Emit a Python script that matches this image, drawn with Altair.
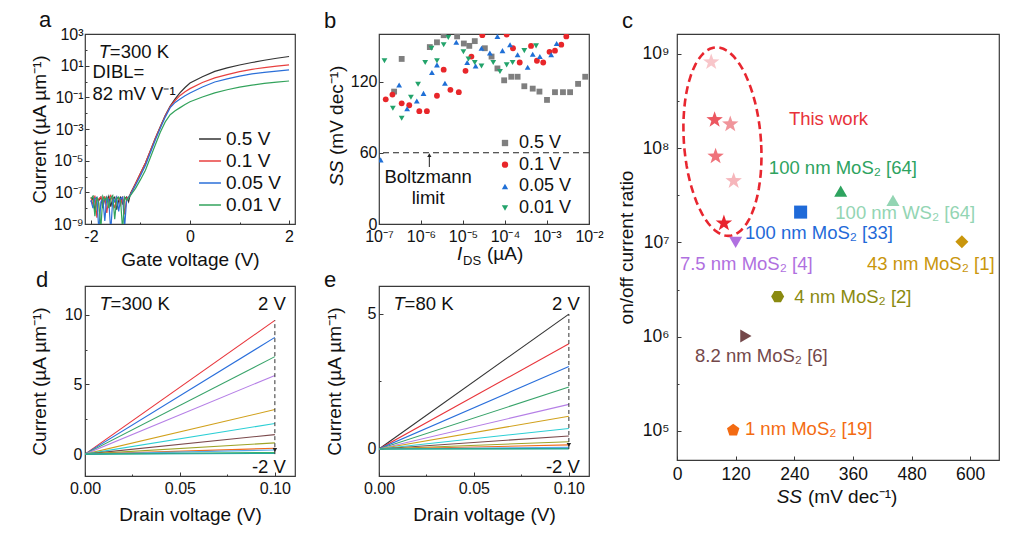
import math
import altair as alt
import pandas as pd

FONT = "Liberation Sans"
FRAME = "#3a3a3a"
INK = "#111111"
SUP = str.maketrans("-0123456789", "⁻⁰¹²³⁴⁵⁶⁷⁸⁹")

# ---------------- panel a : transfer curves ----------------
a_series = ["0.5 V", "0.1 V", "0.05 V", "0.01 V"]
a_colors = ["#333333", "#e8403f", "#2b6fd8", "#33a35c"]
a_vg = [-2.0, -1.96, -1.92, -1.88, -1.84, -1.8, -1.76, -1.72, -1.68, -1.64,
        -1.6, -1.56, -1.52, -1.48, -1.44, -1.4, -1.36, -1.32, -1.28, -1.24,
        -1.2, -1.1, -1.0, -0.9, -0.8, -0.7, -0.6, -0.5, -0.4, -0.3, -0.2, -0.1,
        0.0, 0.25, 0.5, 0.75, 1.0, 1.25, 1.5, 1.75, 2.0]
a_log_05 = [-7.6, -7.3, -8.2, -7.4, -7.5, -7.3, -8.0, -7.35, -7.6, -7.25,
            -7.9, -7.4, -7.3, -8.1, -7.5, -7.3, -7.7, -7.4, -7.3, -7.6,
            -7.05, -6.45, -5.8, -5.15, -4.37, -3.58, -2.85, -2.15, -1.55, -1.1, -0.7, -0.38,
            -0.1, 0.3, 0.64, 0.86, 1.04, 1.2, 1.34, 1.47, 1.58]
a_log_01 = [-7.3, -7.8, -7.2, -8.6, -7.4, -7.3, -7.7, -7.25, -8.3, -7.4,
            -7.2, -7.6, -8.0, -7.3, -7.4, -7.8, -7.25, -8.4, -7.35, -7.3,
            -7.1, -6.45, -5.8, -5.15, -4.37, -3.58, -2.87, -2.17, -1.58, -1.2, -0.88, -0.65,
            -0.45, -0.06, 0.23, 0.43, 0.62, 0.77, 0.88, 0.97, 1.05]
a_log_005 = [-7.5, -8.0, -7.4, -7.3, -9.5, -7.6, -7.4, -8.8, -7.3, -7.5,
             -9.5, -7.4, -7.6, -7.3, -8.2, -7.4, -7.3, -9.2, -7.5, -7.3,
             -7.15, -6.55, -5.95, -5.3, -4.5, -3.7, -2.95, -2.25, -1.65, -1.32, -1.1, -0.9,
             -0.73, -0.35, -0.03, 0.17, 0.34, 0.48, 0.58, 0.66, 0.73]
a_log_001 = [-7.4, -7.25, -8.5, -7.3, -7.7, -9.3, -7.25, -7.5, -7.3, -8.0,
             -7.35, -7.2, -8.7, -7.4, -7.3, -7.6, -9.4, -7.3, -7.5, -7.35,
             -7.2, -6.75, -6.2, -5.6, -4.8, -4.0, -3.2, -2.55, -2.1, -1.85, -1.65, -1.45,
             -1.28, -0.98, -0.72, -0.52, -0.36, -0.23, -0.12, -0.04, 0.03]

# ---------------- panel b : SS vs I_DS ----------------
b_series = ["0.5 V", "0.1 V", "0.05 V", "0.01 V"]
b_colors = ["#7f7f7f", "#e8262a", "#1f6fd6", "#23a36b"]
b_shapes = ["square", "circle", "triangle-up", "triangle-down"]
b_logi_05 = [-6.64, -6.46, -5.79, -5.62, -5.46, -5.14, -4.98, -4.85, -4.72, -4.48, -4.32, -4.18,
             -4.02, -3.85, -3.70, -3.54, -3.34, -3.18, -3.0, -2.81, -2.62, -2.45, -2.26, -2.09]
b_ss_05 = [111.5, 139, 149, 153, 159, 158, 152, 150, 154, 148, 141, 131,
           121, 124, 124, 116, 114, 111.5, 104.5, 111, 111, 111, 118, 124]
b_logi_01 = [-6.84, -6.68, -6.46, -6.28, -6.04, -5.86, -5.62, -5.46, -5.30, -5.10, -4.94, -4.80,
             -4.54, -3.96, -3.81, -3.65, -3.38, -3.24, -3.09, -2.94, -2.81, -2.66, -2.54]
b_ss_01 = [105, 109, 101.6, 100, 95, 95, 108, 130, 113, 111, 129, 141,
           159, 159.5, 148, 136, 150, 137.5, 136, 145, 146, 151, 158]
b_logi_005 = [-6.96, -6.52, -6.33, -6.10, -5.94, -5.74, -5.62, -5.43, -5.16, -4.90, -4.70, -4.56,
              -4.36, -4.18, -4.06, -3.88, -3.70, -3.46, -3.34, -3.17, -2.90, -2.77]
b_ss_005 = [54, 117, 97, 103.6, 110, 127.6, 134, 118.6, 153, 136, 133, 148,
            144, 158, 146, 151, 142.5, 132, 143, 141, 142.5, 152]
b_logi_001 = [-6.87, -6.67, -6.46, -6.24, -6.07, -5.90, -5.75, -5.62, -5.46, -5.35, -4.99, -4.87,
              -4.72, -4.56, -4.28, -4.12, -3.96, -3.82, -3.54, -3.26]
b_ss_001 = [137.5, 97.4, 89, 106.7, 117.7, 136, 148, 137.5, 151, 157, 145, 139,
            136, 133, 136, 128.5, 134, 136, 146, 150]
b_limit = [60]

# ---------------- panel c : benchmark ----------------
c_star_keys = ["s1", "s2", "s3", "s4", "s5", "s6"]
c_star_x = [70, 77, 109, 79, 116, 96]
c_star_y = [8.2e8, 2.0e8, 1.8e8, 8.2e7, 4.5e7, 1.6e7]
c_star_colors = ["#f8c6ca", "#ec5760", "#f0959b", "#ef737b", "#f6b6bb", "#e8232d"]
c_ref_names = ["7.5 nm MoS₂ [4]", "100 nm MoS₂ [33]", "100 nm MoS₂ [64]", "100 nm WS₂ [64]",
               "43 nm MoS₂ [1]", "4 nm MoS₂ [2]", "8.2 nm MoS₂ [6]", "1 nm MoS₂ [19]"]
c_ref_x = [120, 253, 335, 442, 583, 206, 141, 115]
c_ref_y = [1.0e7, 2.1e7, 3.5e7, 2.8e7, 1.02e7, 2.67e6, 1.02e6, 1.02e5]
c_ref_colors = ["#b070e0", "#1f6ad8", "#2ea35f", "#93d5b3", "#c9960c", "#8a8a10", "#74484a", "#f36b12"]
c_label_x = [6, 139, 188, 324, 389, 240, 37, 139]
c_label_y = [5.9e6, 1.26e7, 6.2e7, 2.05e7, 5.9e6, 2.63e6, 6.2e5, 1.05e5]
# dashed ellipse around "this work": centre / radii
ell_cx, ell_rx, ell_shear = 93.0, 79.0, 12.0
ell_cy_log, ell_ry_log = 8.07, 1.0

# ---------------- panels d, e : output curves ----------------
d_vd = [0.0, 0.1]
d_end = [9.6, 8.38, 7.0, 5.65, 3.2, 2.2, 1.4, 0.81, 0.42, 0.3, 0.12, 0.05]
d_colors = ["#e8353b", "#2a6fdb", "#38a36a", "#b57fe6", "#d1a11c", "#2ccfd5",
            "#7b4a4c", "#9ea428", "#f26b1d", "#5aa8ea", "#3ab36b", "#26a59c"]
e_end = [4.99, 3.89, 3.05, 2.29, 1.65, 1.21, 0.76, 0.48, 0.27, 0.15, 0.06, 0.02, 0.005]
e_colors = ["#333333"] + d_colors

STAR = "M0,-1L0.235,-0.324L0.951,-0.309L0.38,0.124L0.588,0.809L0,0.4L-0.588,0.809L-0.38,0.124L-0.951,-0.309L-0.235,-0.324Z"
HEX = "M1,0L0.5,0.866L-0.5,0.866L-1,0L-0.5,-0.866L0.5,-0.866Z"
PENT = "M0,-1L0.951,-0.309L0.588,0.809L-0.588,0.809L-0.951,-0.309Z"
c_ref_shapes = ["triangle-down", "square", "triangle-up", "triangle-up", "diamond", HEX, "triangle-right", PENT]


def sup10(e):
    return "10" + str(e).translate(SUP)


def tick_axis(majors, labels, minors=(), log=False, title=None, label_size=16, **kw):
    def near(v):
        if log:
            return f"abs(log(datum.value) - ({math.log(v):.6f})) < 0.001"
        return f"abs(datum.value - ({v:.6f})) < 0.000001"
    expr = "".join(f"{near(v)} ? '{lab}' : " for v, lab in zip(majors, labels)) + "''"
    args = dict(values=sorted(list(majors) + list(minors)), labelExpr=expr, domain=False, grid=False,
                offset=-4, tickSize=4, tickWidth=1, tickColor=FRAME, labelPadding=3,
                labelFontSize=label_size, labelColor=INK, labelFont=FONT, labelFlush=False,
                labelOverlap=False, titleFontSize=19, titleFont=FONT, titleColor=INK,
                titleFontWeight="normal", title=title)
    if minors:
        test = " || ".join(near(m) for m in minors)
        args["tickDash"] = {"condition": {"test": test, "value": [0, 2, 2, 0]}, "value": []}
    args.update(kw)
    return alt.Axis(**args)


def txt(x, y, t, **mk):
    return alt.Chart(pd.DataFrame({"x": [x], "y": [y], "t": [t]})).mark_text(**mk).encode(
        x="x:Q", y="y:Q", text="t:N")


def ptxt(px, py, t, **mk):
    return alt.Chart(pd.DataFrame({"t": [t]})).mark_text(**mk).encode(
        x=alt.value(px), y=alt.value(py), text="t:N")


def letter(s, px, py):
    return ptxt(px, py, s, fontSize=22, align="left", baseline="alphabetic", color=INK)


def indep(ch):
    return ch.resolve_scale(color="independent", shape="independent").resolve_legend(
        color="independent", shape="independent")


# ======== panel a ========
rows = []
for s, logs in zip(a_series, [a_log_05, a_log_01, a_log_005, a_log_001]):
    for vg, lv in zip(a_vg, logs):
        rows.append({"x": vg, "y": 10.0 ** lv, "s": s})
df_a = pd.DataFrame(rows)
a_exps = [-9, -7, -5, -3, -1, 1, 3]
ax_a_x = tick_axis([-2, 0, 2], ["-2", "0", "2"], [-1, 1], title="Gate voltage (V)",
                   labelPadding=4, minExtent=23, maxExtent=23, titlePadding=7)
ax_a_y = tick_axis([10.0 ** e for e in a_exps], [sup10(e) for e in a_exps],
                   [10.0 ** e for e in [-8, -6, -4, -2, 0, 2]], log=True,
                   title="Current (µA µm⁻¹)", labelPadding=2, minExtent=35, maxExtent=35, titlePadding=5)
a_lines = alt.Chart(df_a).mark_line(strokeWidth=1.2, clip=True).encode(
    x=alt.X("x:Q", scale=alt.Scale(domain=[-2.12, 2.12], nice=False, zero=False), axis=ax_a_x),
    y=alt.Y("y:Q", scale=alt.Scale(type="log", domain=[1e-9, 1e3], nice=False), axis=ax_a_y),
    color=alt.Color("s:N", scale=alt.Scale(domain=a_series, range=a_colors), sort=a_series,
                    legend=alt.Legend(orient="none", legendX=113, legendY=93, title=None,
                                      symbolType="stroke", symbolSize=480, symbolStrokeWidth=1.5,
                                      labelFontSize=19, labelFont=FONT, labelColor=INK,
                                      rowPadding=-3, padding=0, labelOffset=4)),
)
TS = 18.5
chart_a = alt.layer(
    a_lines,
    txt(-1.84, 78.0, "T", fontSize=TS, fontStyle="italic", align="left", baseline="middle", color=INK),
    txt(-1.84, 78.0, "=300 K", fontSize=TS, align="left", baseline="middle", dx=11, color=INK),
    txt(-1.97, 3.9, "DIBL=", fontSize=TS, align="left", baseline="middle", color=INK),
    txt(-1.97, 0.155, "82 mV V⁻¹", fontSize=TS, align="left", baseline="middle", color=INK),
    letter("a", -46, -7),
).properties(width=210, height=190)

# ======== panel b ========
rows = []
for s, li, ss in zip(b_series, [b_logi_05, b_logi_01, b_logi_005, b_logi_001],
                     [b_ss_05, b_ss_01, b_ss_005, b_ss_001]):
    for a, b in zip(li, ss):
        rows.append({"x": 10.0 ** a, "y": b, "s": s})
df_b = pd.DataFrame(rows)
b_exps = [-7, -6, -5, -4, -3, -2]
ax_b_x = tick_axis([10.0 ** e for e in b_exps], [sup10(e) for e in b_exps], log=True,
                   labelPadding=4, minExtent=23, maxExtent=23)
ax_b_y = tick_axis([0, 60, 120], ["0", "60", "120"], [30, 90, 150], labelPadding=2)
leg_b = alt.Legend(orient="none", legendX=117, legendY=100, title=None, labelFontSize=18,
                   labelFont=FONT, labelColor=INK, symbolSize=40, rowPadding=3.7, padding=0,
                   labelOffset=5)
b_pts = alt.Chart(df_b).mark_point(filled=True, opacity=1, size=34, clip=True).encode(
    x=alt.X("x:Q", scale=alt.Scale(type="log", domain=[1e-7, 1e-2], nice=False), axis=ax_b_x),
    y=alt.Y("y:Q", scale=alt.Scale(domain=[0, 160], nice=False, zero=False), axis=ax_b_y),
    color=alt.Color("s:N", scale=alt.Scale(domain=b_series, range=b_colors), sort=b_series, legend=leg_b),
    shape=alt.Shape("s:N", scale=alt.Scale(domain=b_series, range=b_shapes), sort=b_series, legend=leg_b),
)
b_rule = alt.Chart(pd.DataFrame({"y": b_limit})).mark_rule(
    strokeDash=[6, 4], color="#222222", strokeWidth=1.2).encode(y="y:Q")
b_arrow = alt.Chart(pd.DataFrame({"x": [1.58e-6], "y": [48.0], "y2": [57.0]})).mark_rule(
    color="#222222", strokeWidth=1).encode(x="x:Q", y="y:Q", y2="y2:Q")
b_head = alt.Chart(pd.DataFrame({"x": [1.58e-6], "y": [58.0]})).mark_point(
    shape="triangle-up", filled=True, size=18, color="#222222", opacity=1).encode(x="x:Q", y="y:Q")
chart_b = alt.layer(
    b_rule, b_pts, b_arrow, b_head,
    txt(1.48e-6, 40.0, "Boltzmann", fontSize=TS, align="center", baseline="middle", color=INK),
    txt(1.48e-6, 22.0, "limit", fontSize=TS, align="center", baseline="middle", color=INK),
    ptxt(78, 226, "I", fontSize=19, fontStyle="italic", align="left", baseline="alphabetic", color=INK),
    ptxt(84, 231, "DS", fontSize=13, align="left", baseline="alphabetic", color=INK),
    ptxt(108, 226, "(µA)", fontSize=19, align="left", baseline="alphabetic", color=INK),
    ptxt(-36, 152, "SS", fontSize=19, fontStyle="italic", angle=270, align="left",
         baseline="alphabetic", color=INK),
    ptxt(-36, 121, "(mV dec⁻¹)", fontSize=19, angle=270, align="left", baseline="alphabetic", color=INK),
    letter("b", -55, -6),
).properties(width=210, height=190)

# ======== panel c ========
c_keys = c_star_keys + c_ref_names
c_col_scale = alt.Scale(domain=c_keys, range=c_star_colors + c_ref_colors)
c_shape_scale = alt.Scale(domain=c_keys, range=[STAR] * 6 + c_ref_shapes)
c_xs = alt.Scale(domain=[0, 659], nice=False, zero=False)
c_ys = alt.Scale(type="log", domain=[4.92e4, 1.629e9], nice=False)
c_maj = [0, 120, 240, 360, 480, 600]
ax_c_x = tick_axis(c_maj, [str(v) for v in c_maj], [60, 180, 300, 420, 540], label_size=17.5,
                   labelPadding=5, minExtent=23, maxExtent=23)
c_exps = [5, 6, 7, 8, 9]
ax_c_y = tick_axis([10.0 ** e for e in c_exps], [sup10(e) for e in c_exps],
                   [10.0 ** 5.5, 10.0 ** 6.5, 10.0 ** 7.5, 10.0 ** 8.5], log=True, label_size=17.5,
                   title="on/off current ratio", labelPadding=8, minExtent=38, maxExtent=38, titlePadding=7)
ell_rows = []
for k, deg in enumerate(range(0, 361, 5)):
    th = math.radians(deg)
    ell_rows.append({"k": k,
                     "x": ell_cx + ell_rx * math.cos(th) - ell_shear * math.sin(th),
                     "y": 10.0 ** (ell_cy_log + ell_ry_log * math.sin(th))})
c_ell = alt.Chart(pd.DataFrame(ell_rows)).mark_line(
    color="#e8262f", strokeWidth=2.6, strokeDash=[8, 4.5]).encode(
    x=alt.X("x:Q", scale=c_xs, axis=ax_c_x), y=alt.Y("y:Q", scale=c_ys, axis=ax_c_y), order="k:Q")
c_stars = alt.Chart(pd.DataFrame({"x": c_star_x, "y": c_star_y, "key": c_star_keys})).mark_point(
    filled=True, opacity=1, size=300).encode(
    x="x:Q", y="y:Q",
    color=alt.Color("key:N", scale=c_col_scale, legend=None),
    shape=alt.Shape("key:N", scale=c_shape_scale, legend=None))
c_refs = alt.Chart(pd.DataFrame({"x": c_ref_x, "y": c_ref_y, "key": c_ref_names})).mark_point(
    filled=True, opacity=1, size=170).encode(
    x="x:Q", y="y:Q",
    color=alt.Color("key:N", scale=c_col_scale, legend=None),
    shape=alt.Shape("key:N", scale=c_shape_scale, legend=None))
c_labels = alt.Chart(pd.DataFrame({"x": c_label_x, "y": c_label_y, "key": c_ref_names})).mark_text(
    fontSize=TS, align="left", baseline="middle").encode(
    x="x:Q", y="y:Q", text="key:N",
    color=alt.Color("key:N", scale=c_col_scale, legend=None))
chart_c = alt.layer(
    c_ell, c_stars, c_refs, c_labels,
    txt(229, 2.05e8, "This work", fontSize=TS, align="left", baseline="middle", color="#e8323a"),
    ptxt(125, 469, "SS", fontSize=19, fontStyle="italic", align="right", baseline="alphabetic", color=INK),
    ptxt(131, 469, "(mV dec⁻¹)", fontSize=19, align="left", baseline="alphabetic", color=INK),
    letter("c", -55, -6),
).properties(width=322, height=426)


# ======== panels d, e ========
def output_panel(ends, colors, ydom, ymaj, ymin, tlabel, ytitle_pad, ext, title_s, dx, head_y):
    keys = [f"g{k:02d}" for k in range(len(ends))]
    rows = []
    for kk, end in zip(keys, ends):
        rows.append({"x": d_vd[0], "y": 0.0, "g": kk})
        rows.append({"x": d_vd[1], "y": end, "g": kk})
    ax_x = tick_axis([0, 0.05, 0.1], ["0.00", "0.05", "0.10"], [0.025, 0.075], title="Drain voltage (V)",
                     labelPadding=4, minExtent=23, maxExtent=23, titlePadding=10)
    ax_y = tick_axis(ymaj, [str(v) for v in ymaj], ymin, title="Current (µA µm⁻¹)",
                     labelPadding=3, minExtent=ext, maxExtent=ext, titlePadding=ytitle_pad)
    lines = alt.Chart(pd.DataFrame(rows)).mark_line(strokeWidth=1.1, clip=True).encode(
        x=alt.X("x:Q", scale=alt.Scale(domain=[0, 0.1106], nice=False, zero=False), axis=ax_x),
        y=alt.Y("y:Q", scale=alt.Scale(domain=ydom, nice=False, zero=False), axis=ax_y),
        color=alt.Color("g:N", scale=alt.Scale(domain=keys, range=colors), legend=None),
        order="x:Q")
    dash = alt.Chart(pd.DataFrame({"x": [0.1], "y": [0.0], "y2": [ends[0]]})).mark_rule(
        strokeDash=[4, 3], color="#333333", strokeWidth=1).encode(x="x:Q", y="y:Q", y2="y2:Q")
    head = alt.Chart(pd.DataFrame({"x": [0.1], "y": [head_y]})).mark_point(
        shape="triangle-down", filled=True, size=20, color="#222222", opacity=1).encode(x="x:Q", y="y:Q")
    ytop = ydom[1] - (ydom[1] - ydom[0]) * 0.095
    ybot = ydom[0] + (ydom[1] - ydom[0]) * 0.045
    return alt.layer(
        lines, dash, head,
        txt(0.0077, ytop, "T", fontSize=TS, fontStyle="italic", align="left", baseline="middle", color=INK),
        txt(0.0077, ytop, tlabel, fontSize=TS, align="left", baseline="middle", dx=11, color=INK),
        txt(0.1058, ytop, "2 V", fontSize=TS, align="right", baseline="middle", color=INK),
        txt(0.1058, ybot, "-2 V", fontSize=TS, align="right", baseline="middle", color=INK),
        letter(title_s, dx, 1),
    ).properties(width=210, height=190)


chart_d = output_panel(d_end, d_colors, [-1.57, 12.07], [0, 5, 10], [2.5, 7.5], "=300 K", 5, 35, "d", -49, 0.3)
chart_e = output_panel(e_end, e_colors, [-1.0, 6.03], [0, 5], [2.5], "=80 K", 6, 33, "e", -55, 0.15)

col1 = indep(alt.vconcat(chart_a, chart_d, spacing=62, bounds="flush"))
col2 = indep(alt.vconcat(chart_b, chart_e, spacing=62, bounds="flush"))
left = indep(alt.hconcat(col1, col2, spacing=27))
chart = indep(alt.hconcat(left, chart_c, spacing=12)).properties(
    padding={"left": 21, "top": 0, "right": 5, "bottom": 5}
).configure(font=FONT).configure_view(stroke=FRAME, strokeWidth=1.2).configure_text(font=FONT)

chart.save("out.html", embed_options={"renderer": "svg", "actions": False})
